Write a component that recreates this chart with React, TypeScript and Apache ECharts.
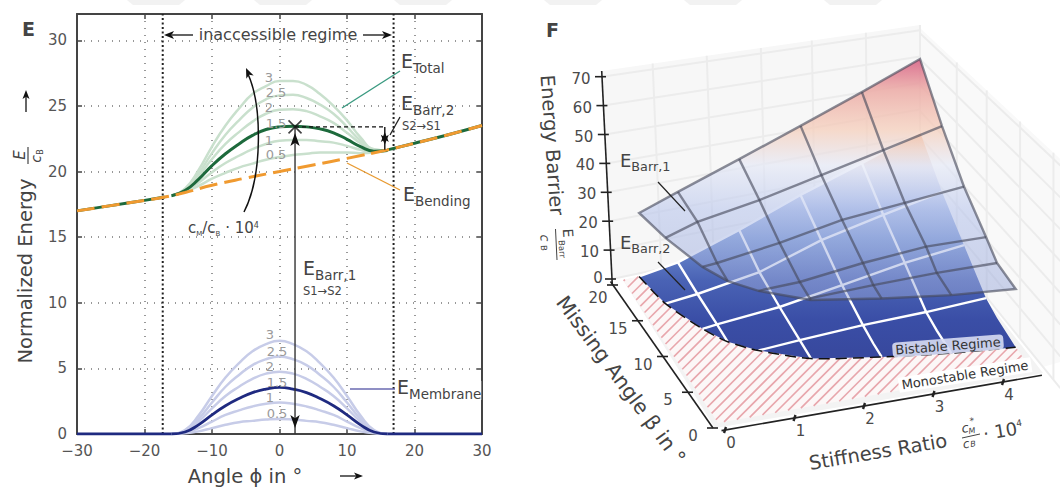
import React, { useEffect, useRef } from "react";
import * as echarts from "echarts";

const FONT = "DejaVu Sans";
// ---------- Panel E data ----------
const angleGrid = [-16, -14, -12, -10, -8, -6, -4, -2, 0, 2, 4, 6, 8, 10, 12, 14, 16];
const membrane05 = [0, 0.05, 0.2, 0.45, 0.7, 0.9, 1.0, 1.1, 1.15, 1.1, 1.0, 0.9, 0.7, 0.45, 0.2, 0.05, 0];
const membrane10 = [0, 0.1, 0.45, 0.95, 1.45, 1.8, 2.1, 2.3, 2.4, 2.3, 2.1, 1.8, 1.45, 0.95, 0.45, 0.1, 0];
const membrane15 = [0, 0.15, 0.7, 1.45, 2.15, 2.7, 3.15, 3.42, 3.55, 3.42, 3.15, 2.7, 2.15, 1.45, 0.7, 0.15, 0];
const membrane20 = [0, 0.2, 0.95, 1.95, 2.9, 3.6, 4.2, 4.6, 4.75, 4.6, 4.2, 3.6, 2.9, 1.95, 0.95, 0.2, 0];
const membrane25 = [0, 0.25, 1.15, 2.4, 3.6, 4.5, 5.25, 5.7, 5.9, 5.7, 5.25, 4.5, 3.6, 2.4, 1.15, 0.25, 0];
const membrane30 = [0, 0.3, 1.4, 2.9, 4.3, 5.4, 6.3, 6.85, 7.1, 6.85, 6.3, 5.4, 4.3, 2.9, 1.4, 0.3, 0];
const total05 = [18.15, 18.45, 18.9, 19.45, 19.9, 20.3, 20.6, 20.9, 21.1, 21.25, 21.35, 21.45, 21.45, 21.45, 21.4, 21.45, 21.6];
const total10 = [18.15, 18.5, 19.15, 19.95, 20.65, 21.2, 21.7, 22.1, 22.35, 22.4, 22.4, 22.3, 22.2, 21.95, 21.65, 21.5, 21.6];
const total15 = [18.15, 18.55, 19.4, 20.45, 21.35, 22.1, 22.75, 23.2, 23.4, 23.45, 23.4, 23.25, 22.95, 22.45, 21.9, 21.55, 21.6];
const total20 = [18.15, 18.6, 19.65, 20.95, 22.1, 23.0, 23.8, 24.4, 24.7, 24.75, 24.6, 24.2, 23.7, 22.95, 22.15, 21.6, 21.6];
const total25 = [18.15, 18.65, 19.85, 21.4, 22.8, 23.9, 24.85, 25.5, 25.8, 25.85, 25.6, 25.1, 24.4, 23.4, 22.35, 21.65, 21.6];
const total30 = [18.15, 18.7, 20.1, 21.9, 23.5, 24.8, 25.9, 26.5, 26.9, 26.9, 26.6, 25.9, 25.0, 23.9, 22.6, 21.7, 21.6];
const bendingAngle = [-30, -25, -20, -17, -14, -10, -5, 0, 5, 10, 16, 20, 25, 30];
const bendingEnergy = [17, 17.4, 17.8, 18.05, 18.4, 18.95, 19.5, 20, 20.5, 21, 21.65, 22.15, 22.8, 23.5];
const bendingOuterLeft = 4;
const bendingOuterRight = 10;
const membraneFlatLeft = [[-30, 0], [-16, 0]];
const membraneFlatRight = [[16, 0], [30, 0]];
const regimeEdges = [-17.3, 16.9];
const saddleAngle = 2.3;
const saddleEnergy = 23.4;
const minimumAngle = 15.6;
const minimumEnergy = 21.65;

// ---------- Panel F data ----------
const stiffness = [0.25, 0.85, 1.8, 2.75, 3.7, 4.6];
const betaRows = [20, 16, 12, 8, 6];
const barrier1 = [
  [22, 26.7, 34.1, 42, 50.4, 59.1],
  [null, 25.7, 29.2, 34, 39, 44],
  [null, 21, 23.9, 27.9, 30, 32],
  [null, null, 20.1, 22.7, 24.5, 24.2],
  [null, null, 19.3, 20, 20.4, 20.2],
];
const barrier2 = [
  [0, 2, 8.8, 16.8, 24, 31.4],
  [null, 1, 4.1, 10.9, 15.5, 19.7],
  [null, 0.5, 2.1, 5.3, 8.8, 11],
  [null, null, 0.8, 1.7, 2, 2.8],
  [null, null, 0.2, 0.5, 0.8, 1.2],
];
const critStiffness = [0.25, 0.36, 0.63, 0.85, 1.18, 1.8, 2.75, 3.7, 4.6];
const critBeta = [20, 16, 12, 9.8, 8, 5.8, 4.4, 3.3, 2.6];
const critBarrier1 = [22, 22.3, 20.6, 20, 19.6, 19.2, 19.3, 19.4, 19.7];
const zTicks = [0, 10, 20, 30, 40, 50, 60, 70];
const betaTicks = [0, 5, 10, 15, 20];
const ratioTicks = [0, 1, 2, 3, 4];
const wallColumns = [0.16, 0.33, 0.5, 0.66, 0.83, 1];
const sideColumns = [0.16, 0.29, 0.435, 0.58];

const lerp = (a: number, b: number, t: number) => a + (b - a) * t;
const XMAX = 4.6;
function P(x: number, b: number, z: number): number[] {
  const u = x / XMAX;
  const t = (20 - b) / 20;
  const s = lerp(lerp(2.9, 2.64, u), lerp(3.25, 3.0, u), t);
  const X = lerp(lerp(623, 920, u), lerp(718, 1030, u), t);
  const Y = lerp(lerp(280, 215, u), lerp(423, 367, u), t);
  return [X, Y - s * z];
}
const backWall = (w: number, z: number) => [lerp(612 - 0.143 * z, 920, w), lerp(279 - 2.89 * z, 215 - 2.64 * z, w)];
const sideWall = (v: number, f: number) => [920 + 230 * v, lerp(215 + 284 * v, 28 + 215 * v, f)];
const zAxisAt = (z: number) => [612 - 0.143 * z, 279 - 2.89 * z];
const betaAxisAt = (b: number) => [713 - 5 * b, 428 - 7.15 * b];
const ratioAxisAt = (r: number) => [725 + 69.5 * r, 430 - 12 * r];

function hatch(poly: number[][], step: number) {
  const out: any[] = [];
  for (let c = 600; c < 1500; c += step) {
    const xs: number[] = [];
    poly.forEach((p, i) => {
      const q = poly[(i + 1) % poly.length];
      const a = p[0] + p[1] - c;
      const b = q[0] + q[1] - c;
      if (a < 0 !== b < 0) xs.push(lerp(p[0], q[0], a / (a - b)));
    });
    xs.sort((m, n) => m - n);
    for (let i = 0; i + 1 < xs.length; i += 2) {
      out.push({
        type: "line",
        shape: { x1: xs[i], y1: c - xs[i], x2: xs[i + 1], y2: c - xs[i + 1] },
        style: { stroke: "#e8a6ac", lineWidth: 1.6 },
      });
    }
  }
  return out;
}

function stops(y0: number, y1: number, list: any[]) {
  return new echarts.graphic.LinearGradient(
    0, y0, 0, y1,
    list.map(([y, color]) => ({ offset: (y - y0) / (y1 - y0), color })),
    true as any
  );
}

function meshLines(grid: any[][], drawnRows: number, critZ: (i: number) => number, style: any) {
  const lines: any[] = [];
  betaRows.forEach((b, r) => {
    if (r === 0 || r >= drawnRows) return;
    const pts: number[][] = [];
    const ci = critBeta.indexOf(b);
    if (ci >= 0) pts.push(P(critStiffness[ci], b, critZ(ci)));
    stiffness.forEach((x, c) => {
      if (grid[r][c] !== null) pts.push(P(x, b, grid[r][c]));
    });
    lines.push({ type: "polyline", shape: { points: pts }, style });
  });
  stiffness.forEach((x, c) => {
    if (c === 0 || c === stiffness.length - 1) return;
    const pts: number[][] = [];
    betaRows.forEach((b, r) => {
      if (grid[r][c] !== null) pts.push(P(x, b, grid[r][c]));
    });
    const ci = critStiffness.indexOf(x);
    pts.push(P(x, critBeta[ci], critZ(ci)));
    lines.push({ type: "polyline", shape: { points: pts }, style });
  });
  return lines;
}

function outline(grid: any[][], critZ: (i: number) => number) {
  const pts: number[][] = [];
  stiffness.forEach((x, c) => pts.push(P(x, 20, grid[0][c])));
  betaRows.forEach((b, r) => {
    if (r > 0) pts.push(P(XMAX, b, grid[r][stiffness.length - 1]));
  });
  for (let i = critStiffness.length - 1; i > 0; i--) pts.push(P(critStiffness[i], critBeta[i], critZ(i)));
  return pts;
}

function renderSurface() {
  const ch: any[] = [];
  const tick = "#222";
  // walls
  ch.push({
    type: "polygon",
    shape: { points: [backWall(0, 72), backWall(1, 72), backWall(1, 0), backWall(0, 0)] },
    style: { fill: "#f7f7f7" },
  });
  ch.push({
    type: "polygon",
    shape: { points: [sideWall(0, 1), sideWall(0.61, 1), [1060, 362], sideWall(0.535, 0), sideWall(0, 0)] },
    style: { fill: "#f9f9f9" },
  });
  const wallLine = { stroke: "#ececec", lineWidth: 2 };
  zTicks.forEach((z) => ch.push({ type: "polyline", shape: { points: [backWall(0, z), backWall(1, z)] }, style: wallLine }));
  wallColumns.forEach((w) => ch.push({ type: "polyline", shape: { points: [backWall(w, 72), backWall(w, 0)] }, style: wallLine }));
  zTicks.forEach((z) => ch.push({ type: "polyline", shape: { points: [sideWall(0, z / 72), sideWall(0.61, z / 72)] }, style: wallLine }));
  sideColumns.forEach((v) => ch.push({ type: "polyline", shape: { points: [sideWall(v, 1), sideWall(v, 0)] }, style: wallLine }));
  // floor
  ch.push({
    type: "polygon",
    shape: { points: [[623, 280], [715, 428], [1043, 373], [920, 215]] },
    style: { fill: "#f3f3f3" },
  });
  const crit = critStiffness.map((x, i) => P(x, critBeta[i], 0));
  const mono = [P(0, 20, 0), ...crit, P(XMAX, 0, 0), P(0, 0, 0)];
  ch.push({ type: "polygon", shape: { points: mono }, style: { fill: "#fcf7f7" } });
  ch.push(...hatch(mono, 10.5));

  // lower surface
  const z0 = () => 0;
  ch.push({
    type: "polygon",
    shape: { points: outline(barrier2, z0) },
    style: {
      fill: stops(130, 350, [
        [130, "#f2a97e"], [150, "#f3d3c0"], [170, "#dfe0ee"], [200, "#b0c0e8"],
        [240, "#6f8ed0"], [280, "#4a63b5"], [320, "#3a4ea6"], [350, "#38499f"],
      ]),
    },
  });
  const white = { stroke: "#ffffff", lineWidth: 2.4, fill: "none" };
  ch.push(...meshLines(barrier2, 4, z0, white));
  ch.push({
    type: "polyline",
    shape: { points: stiffness.map((x, c) => P(x, 20, barrier2[0][c] as number)) },
    style: white,
  });
  ch.push({
    type: "polyline",
    shape: { points: crit, smooth: 0.25 },
    style: { stroke: "#111", lineWidth: 1.5, lineDash: [11, 6], fill: "none" },
  });

  // upper surface
  const zU = (i: number) => critBarrier1[i];
  const up = outline(barrier1, zU);
  ch.push({
    type: "polygon",
    shape: { points: up },
    style: {
      fill: stops(55, 300, [
        [55, "rgba(214,96,135,0.95)"], [90, "rgba(236,170,165,0.85)"], [130, "rgba(245,205,185,0.72)"],
        [165, "rgba(228,232,246,0.66)"], [210, "rgba(185,198,236,0.6)"], [300, "rgba(150,165,215,0.48)"],
      ]),
    },
  });
  const gray = { stroke: "rgba(70,72,90,0.62)", lineWidth: 2.4, fill: "none" };
  ch.push(...meshLines(barrier1, 5, zU, gray));
  ch.push({ type: "polygon", shape: { points: up }, style: { ...gray } });

  // axes
  const axisStyle = { stroke: tick, lineWidth: 1.6 };
  const txt = (text: string, p: number[]) => ({
    type: "text", x: p[0], y: p[1],
    style: { text, fontFamily: FONT, fontSize: 15, fill: "#4a4a4a", align: "center", verticalAlign: "middle" },
  });
  ch.push({ type: "polyline", shape: { points: [zAxisAt(-2), zAxisAt(72)] }, style: axisStyle });
  zTicks.forEach((z) => {
    const p = zAxisAt(z);
    ch.push({ type: "line", shape: { x1: p[0] - 7, y1: p[1], x2: p[0] + 4, y2: p[1] }, style: axisStyle });
    ch.push(txt(String(z), [p[0] - (z === 0 ? 14 : 21), p[1] + (z === 0 ? -1 : 2)]));
  });
  ch.push({ type: "polyline", shape: { points: [betaAxisAt(20.5), betaAxisAt(0)] }, style: axisStyle });
  betaTicks.forEach((b) => {
    const p = betaAxisAt(b);
    ch.push({ type: "line", shape: { x1: p[0] - 6, y1: p[1], x2: p[0] + 5, y2: p[1] }, style: axisStyle });
    ch.push(txt(String(b), b === 20 ? [p[0] - 15, p[1] + 13] : [p[0] - 20, p[1] + 8]));
  });
  ch.push({ type: "polyline", shape: { points: [ratioAxisAt(-0.05), ratioAxisAt(4.56)] }, style: axisStyle });
  ratioTicks.forEach((r) => {
    const p = ratioAxisAt(r);
    ch.push({ type: "line", shape: { x1: p[0] - 1, y1: p[1] + 3, x2: p[0] + 1, y2: p[1] - 3 }, style: { stroke: tick, lineWidth: 2.4 } });
    ch.push(txt(String(r), [p[0] + 6, p[1] + 13]));
  });
  return { type: "group", children: ch };
}

// ---------- annotation helpers ----------
const text = (t: string, x: number, y: number, size: number, extra: any = {}, rot = 0) => ({
  type: "text", x, y, z: 100, rotation: (rot * Math.PI) / 180, silent: true,
  style: { text: t, fontFamily: FONT, fontSize: size, fill: "#444", align: "left", verticalAlign: "top", ...extra },
});
const center = { align: "center", verticalAlign: "middle" };
const sub = (main: string, low: string, x: number, y: number, size = 19, extra: any = {}) =>
  text(`{a|${main}}{b|${low}}`, x, y, size, {
    rich: {
      a: { fontFamily: FONT, fontSize: size, lineHeight: size, fill: "#444", padding: [0, 0, 4, 0], verticalAlign: "bottom" },
      b: { fontFamily: FONT, fontSize: size * 0.71, lineHeight: size * 0.8, fill: "#444", verticalAlign: "bottom" },
    },
    ...extra,
  });
const seg = (x1: number, y1: number, x2: number, y2: number, stroke = "#222", lineWidth = 1.3) => ({
  type: "line", z: 90, silent: true, shape: { x1, y1, x2, y2 }, style: { stroke, lineWidth },
});
function head(x: number, y: number, fromX: number, fromY: number, len = 10, wid = 4) {
  const d = Math.hypot(x - fromX, y - fromY);
  const ux = (x - fromX) / d;
  const uy = (y - fromY) / d;
  return {
    type: "polygon", z: 91, silent: true,
    shape: {
      points: [[x, y], [x - ux * len - uy * wid, y - uy * len + ux * wid], [x - ux * len * 0.75, y - uy * len * 0.75], [x - ux * len + uy * wid, y - uy * len - ux * wid]],
    },
    style: { fill: "#111" },
  };
}
const gray = { fill: "#9a9a9a" };
const totalCurveLabels = [["3", 269, 77], ["2.5", 276, 92], ["2", 269, 107], ["1.5", 276, 123], ["1", 269, 140], ["0.5", 276, 154]];
const membraneCurveLabels = [["3", 270, 334], ["2.5", 277, 351], ["2", 270, 366], ["1.5", 277, 382], ["1", 270, 397], ["0.5", 277, 413]];
const banners = [133, 260, 400, 550, 690, 830];

const graphicElements: any[] = [
  ...banners.map((x) => ({
    type: "polygon", z: 0, silent: true,
    shape: { points: [[x - 6, 0], [x + 52, 0], [x + 46, 5], [x, 5]] },
    style: { fill: "#f2f2f2" },
  })),
  text("E", 22, 19, 19, { fontWeight: "bold" }),
  text("F", 546, 20, 19, { fontWeight: "bold" }),
  // panel E axis titles
  text("Normalized Energy", 25, 271, 19.5, center, 90),
  text("E", 20, 155, 15, { ...center, fontStyle: "italic" }, 90),
  seg(28, 147, 28, 164, "#444", 1.2),
  text("c", 36, 159, 14, { ...center, fontStyle: "italic" }, 90),
  text("B", 40, 152, 8, center, 90),
  seg(26, 112, 26, 96, "#333", 1.5), head(26, 90, 26, 112, 9, 3.5),
  text("Angle ϕ in °", 245, 476, 19.5, center),
  seg(340, 476, 357, 476, "#333", 1.5), head(363, 476, 340, 476, 9, 3.5),
  // panel E annotations
  text("inaccessible regime", 278, 34, 16, center),
  seg(172, 35, 193, 35, "#222", 1.4), head(164, 35, 193, 35),
  seg(363, 35, 384, 35, "#222", 1.4), head(392, 35, 363, 35),
  ...totalCurveLabels.map(([t, x, y]) => text(t as string, x as number, y as number, 13, { ...center, ...gray })),
  ...membraneCurveLabels.map(([t, x, y]) => text(t as string, x as number, y as number, 13, { ...center, ...gray })),
  {
    type: "bezierCurve", z: 90, silent: true,
    shape: { x1: 244, y1: 212, cpx1: 263, cpy1: 175, cpx2: 262, cpy2: 105, x2: 248, y2: 74 },
    style: { stroke: "#111", lineWidth: 1.5, fill: "none" },
  },
  head(246, 68, 253, 84),
  text("{a|c}{b|M}{a|/c}{b|B}{a| · 10}{c|4}", 188, 220, 15, {
    rich: {
      a: { fontFamily: FONT, fontSize: 15, fill: "#444", padding: [0, 0, 2, 0], verticalAlign: "bottom" },
      b: { fontFamily: FONT, fontSize: 7, fill: "#444", verticalAlign: "bottom" },
      c: { fontFamily: FONT, fontSize: 8, fill: "#444", padding: [0, 0, 8, 0], verticalAlign: "bottom" },
    },
  }),
  sub("E", "Total", 401, 55),
  seg(400, 71, 342, 108, "#3a9a80", 1.4),
  sub("E", "Barr,2", 401, 97),
  text("S2→S1", 402, 120, 11.5),
  seg(400, 117, 390, 135, "#222", 1.3),
  sub("E", "Bending", 403, 188),
  seg(347, 163, 400, 190, "#e89a30", 1.4),
  sub("E", "Barr,1", 303, 262),
  text("S1→S2", 303, 285, 11.5),
  seg(350, 389, 395, 389, "#6a6ab0", 1.6),
  sub("E", "Membrane", 397, 381, 19, { backgroundColor: "#fff" }),
  // panel F texts
  text("Energy Barrier", 552, 145, 19.5, center, -86),
  text("E", 568, 233, 14, center, -86),
  text("Barr", 562, 249, 8.5, center, -86),
  seg(555.5, 229, 557, 260, "#444", 1),
  text("c", 545, 238, 13, { ...center, fontStyle: "italic" }, -86),
  text("B", 544, 248, 8.5, center, -86),
  text("Missing Angle β in °", 621, 380, 20.5, center, -53.7),
  text("Stiffness Ratio", 878, 452, 19.5, center, 9.5),
  text("c", 965, 428, 13, { ...center, fontStyle: "italic" }, 9.5),
  text("*", 972, 421, 9, center, 9.5),
  text("M", 972, 431, 8, { ...center, fontStyle: "italic" }, 9.5),
  seg(962, 438, 980, 434, "#444", 1),
  text("c", 966, 444, 12, { ...center, fontStyle: "italic" }, 9.5),
  text("B", 973, 444, 8, { ...center, fontStyle: "italic" }, 9.5),
  text("· 10", 1000, 431, 18, center, 9.5),
  text("4", 1019, 423, 9, center, 9.5),
  sub("E", "Barr,1", 620, 155, 18),
  seg(658, 182, 685, 211, "#222", 1.2),
  sub("E", "Barr,2", 620, 237, 18),
  seg(658, 262, 685, 290, "#222", 1.2),
  text("Bistable Regime", 948, 346, 13, { ...center, backgroundColor: "rgba(215,220,242,0.9)", padding: [1, 3], borderRadius: 4, fill: "#333" }, 4.5),
  text("Monostable Regime", 965, 375, 13, { ...center, backgroundColor: "#fff", padding: [1, 3], fill: "#333" }, 9),
];

const pair = (ys: number[]) => angleGrid.map((x, i) => [x, ys[i]]);
const curve = (data: any[], color: string, width: number, z = 3) => ({
  type: "line", data, showSymbol: false, smooth: 0.5, silent: true, z,
  lineStyle: { color, width },
});
const bendingPairs = bendingAngle.map((x, i) => [x, bendingEnergy[i]]);
const darkGreen = "#1d6a3c";
const navy = "#1f2a80";

const option: any = {
  animation: false,
  grid: { left: 77, right: 578, top: 14, bottom: 55 },
  xAxis: [
    {
      type: "value", min: -30, max: 30, interval: 10,
      axisLine: { lineStyle: { color: "#444", width: 2 } },
      axisTick: { inside: true, length: 5, lineStyle: { color: "#444", width: 1.5 } },
      axisLabel: { fontFamily: FONT, fontSize: 15, color: "#555", margin: 9, formatter: (v: number) => String(v).replace("-", "−") },
      splitLine: { show: true, lineStyle: { color: "#777", width: 1.5, type: [1, 6] } },
    },
    {
      type: "value", position: "top", min: -30, max: 30, interval: 10,
      axisLine: { onZero: false, lineStyle: { color: "#444", width: 2 } },
      axisTick: { inside: true, length: 5, lineStyle: { color: "#444", width: 1.5 } },
      axisLabel: { show: false }, splitLine: { show: false },
    },
  ],
  yAxis: [
    {
      type: "value", min: 0, max: 32, interval: 5,
      axisLine: { show: true, onZero: false, lineStyle: { color: "#444", width: 2 } },
      axisTick: { show: true, inside: true, length: 5, lineStyle: { color: "#444", width: 1.5 } },
      axisLabel: { fontFamily: FONT, fontSize: 15, color: "#555", margin: 10, formatter: (v: number) => (v === 32 ? "" : String(v)) },
      splitLine: { show: true, lineStyle: { color: "#777", width: 1.5, type: [1, 6] } },
    },
    {
      type: "value", position: "right", min: 0, max: 32, interval: 5,
      axisLine: { show: true, onZero: false, lineStyle: { color: "#444", width: 2 } },
      axisTick: { show: true, inside: true, length: 5, lineStyle: { color: "#444", width: 1.5 } },
      axisLabel: { show: false }, splitLine: { show: false },
    },
  ],
  graphic: { elements: graphicElements },
  series: [
    ...regimeEdges.map((x) => ({
      type: "line", data: [[x, 0], [x, 32]], showSymbol: false, silent: true, z: 2,
      lineStyle: { color: "#222", width: 2, type: [2, 2.5] },
    })),
    ...[total05, total10, total20, total25, total30].map((d) => curve(pair(d), "#c9e0cd", 2.5)),
    ...[membrane05, membrane10, membrane20, membrane25, membrane30].map((d) => curve(pair(d), "#c7cce8", 2.5)),
    curve(pair(membrane15), navy, 2.8, 5),
    { ...curve(membraneFlatLeft, navy, 2.8, 5), smooth: false },
    { ...curve(membraneFlatRight, navy, 2.8, 5), smooth: false },
    curve(bendingPairs.slice(0, bendingOuterLeft), darkGreen, 3, 5),
    curve(bendingPairs.slice(bendingOuterRight), darkGreen, 3, 5),
    curve(pair(total15), darkGreen, 3, 6),
    {
      type: "line", data: bendingPairs, showSymbol: false, smooth: 0.5, silent: true, z: 7,
      lineStyle: { color: "#f09a30", width: 3, type: [18, 7] },
    },
    {
      type: "line", silent: true, z: 8, showSymbol: false,
      data: [[saddleAngle, saddleEnergy], [minimumAngle, saddleEnergy]],
      lineStyle: { color: "#111", width: 1.4, type: [4, 3] },
    },
    {
      type: "line", silent: true, z: 8, showSymbol: true,
      data: [
        { value: [saddleAngle, saddleEnergy], symbol: "arrow", symbolSize: [7, 13], symbolOffset: [0, 6] },
        { value: [saddleAngle, 0], symbol: "arrow", symbolRotate: 180, symbolSize: [7, 13], symbolOffset: [0, -6] },
      ],
      itemStyle: { color: "#111" },
      lineStyle: { color: "#333", width: 1.4 },
    },
    {
      type: "line", silent: true, z: 8, showSymbol: true,
      data: [
        { value: [minimumAngle, saddleEnergy], symbol: "arrow", symbolSize: [6, 10], symbolOffset: [0, 5] },
        { value: [minimumAngle, minimumEnergy], symbol: "arrow", symbolRotate: 180, symbolSize: [6, 10], symbolOffset: [0, -5] },
      ],
      itemStyle: { color: "#111" },
      lineStyle: { color: "#111", width: 1.4 },
    },
    {
      type: "scatter", silent: true, z: 9, data: [[saddleAngle, saddleEnergy]],
      symbol: "path://M0 0L10 10M10 0L0 10", symbolSize: 13,
      itemStyle: { color: "#111", borderColor: "#111", borderWidth: 1.6 },
    },
    {
      type: "custom", coordinateSystem: "none", silent: true, z: 1, clip: false,
      data: [0], renderItem: renderSurface,
    },
  ],
};

export default function App() {
  const ref = useRef<HTMLDivElement>(null);
  useEffect(() => {
    const chart = echarts.init(ref.current as HTMLDivElement, undefined, { renderer: "svg" });
    chart.setOption(option);
    return () => chart.dispose();
  }, []);
  return <div ref={ref} style={{ position: "fixed", left: 0, top: 0, width: 1060, height: 489, background: "#fff" }} />;
}
